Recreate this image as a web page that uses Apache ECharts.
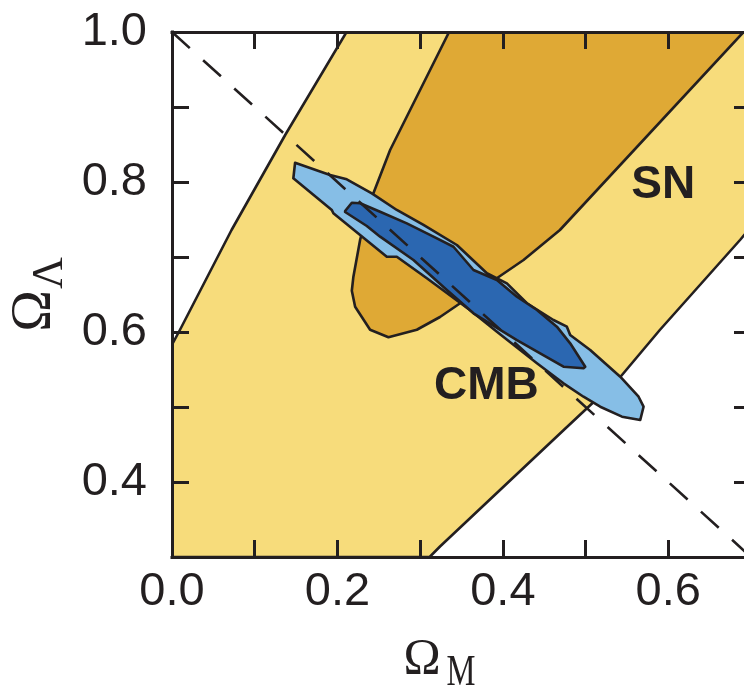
<!DOCTYPE html>
<html>
<head>
<meta charset="utf-8">
<title>Ω_M – Ω_Λ confidence regions</title>
<script src="https://cdn.jsdelivr.net/npm/echarts@6/dist/echarts.min.js"></script>
<style>
  html, body { margin: 0; padding: 0; background: #ffffff; }
  #chart { width: 744px; height: 690px; }
</style>
</head>
<body>
<div id="chart"></div>
<script>
// Confidence regions in the (Ω_M, Ω_Λ) plane, vertices as [Ω_M, Ω_Λ]

// Supernova constraint, outer (95%) band
const sn95 = [
  [0, 0.3], [0, 0.583], [0.0097, 0.603], [0.072, 0.736], [0.137, 0.863], [0.211, 1.0],
  [0.7, 1.0], [0.7, 0.740], [0.687, 0.723], [0.590, 0.603], [0.542, 0.540],
  [0.4733, 0.469], [0.324, 0.314], [0.3115, 0.3]
];

// Supernova constraint, inner (68%) region
const sn68 = [
  [0.335, 1.0], [0.2637, 0.8427], [0.2435, 0.785], [0.2274, 0.7227], [0.2193, 0.6737],
  [0.2174, 0.655], [0.2214, 0.6337], [0.2395, 0.603], [0.2617, 0.593], [0.296, 0.603],
  [0.324, 0.620], [0.425, 0.696], [0.469, 0.736], [0.691, 1.0]
];

// CMB constraint, outer (95%) contour
const cmb95 = [
  [0.1488, 0.8257], [0.1911, 0.8093], [0.2113, 0.8036], [0.2416, 0.7849], [0.2718, 0.7627],
  [0.3040, 0.7427], [0.3444, 0.716], [0.3807, 0.6783], [0.4049, 0.6649], [0.4291, 0.6383],
  [0.4612, 0.616], [0.4774, 0.6071], [0.4814, 0.596], [0.5056, 0.576], [0.5419, 0.5404],
  [0.5641, 0.5137], [0.5701, 0.5004], [0.5661, 0.4827], [0.5440, 0.4871], [0.5177, 0.5004],
  [0.4975, 0.5137], [0.4733, 0.5316], [0.4412, 0.5583], [0.3928, 0.6004], [0.3605, 0.6290],
  [0.3081, 0.6716], [0.2718, 0.7004], [0.2597, 0.7004], [0.1951, 0.7583], [0.1932, 0.7627],
  [0.1467, 0.8049]
];

// CMB constraint, inner (68%) contour
const cmb68 = [
  [0.2093, 0.7613], [0.2174, 0.7724], [0.2274, 0.7716], [0.2516, 0.7604], [0.2839, 0.7449],
  [0.3161, 0.7271], [0.3403, 0.7137], [0.3645, 0.6827], [0.3928, 0.6693], [0.4170, 0.6471],
  [0.4412, 0.6293], [0.4653, 0.6071], [0.4814, 0.5849], [0.4996, 0.5537], [0.4975, 0.5516],
  [0.4733, 0.5537], [0.4451, 0.5716], [0.4170, 0.5893], [0.3968, 0.6027], [0.3645, 0.6249],
  [0.3323, 0.656], [0.2919, 0.696], [0.2516, 0.7271], [0.2355, 0.7413], [0.2093, 0.76]
];

// Flat universe: Ω_M + Ω_Λ = 1
const flatLine = [[0, 1.0], [0.7, 0.3]];

// Region names and where they are written
const regionNames = ['SN', 'CMB'];
const regionNameAt = [[0.594, 0.796], [0.380, 0.528]];

const ink = '#231F20';
const colors = {
  sn95: '#F7DC7B',
  sn68: '#DFA935',
  cmb95: '#86BEE6',
  cmb68: '#2B67B1'
};

function regionSeries(name, pts, fill, z) {
  return {
    type: 'custom',
    name: name,
    coordinateSystem: 'cartesian2d',
    xAxisIndex: 0,
    yAxisIndex: 0,
    clip: true,
    silent: true,
    z: z,
    data: [0],
    renderItem: function (params, api) {
      return {
        type: 'polygon',
        shape: { points: pts.map(function (p) { return api.coord(p); }) },
        style: { fill: fill, stroke: ink, lineWidth: 2.6, lineJoin: 'round' }
      };
    }
  };
}

function tickLabel(v) {
  const t = Math.round(v * 10);
  return t % 2 === 0 ? (t / 10).toFixed(1) : '';
}

const tickFont = { fontFamily: 'Liberation Sans', fontSize: 47, color: ink };
const axisLineStyle = { color: ink, width: 3, cap: 'square' };
const tickStyle = { inside: true, length: 17, lineStyle: { color: ink, width: 3 } };

function makeX(position, withLabels) {
  return {
    type: 'value',
    position: position,
    min: 0, max: 0.7, interval: 0.1,
    z: 10,
    axisLine: { show: true, onZero: false, lineStyle: axisLineStyle },
    axisTick: tickStyle,
    splitLine: { show: false },
    axisLabel: withLabels
      ? Object.assign({ show: true, margin: 12, formatter: tickLabel }, tickFont)
      : { show: false }
  };
}

function makeY(position, withLabels) {
  return {
    type: 'value',
    position: position,
    min: 0.3, max: 1.0, interval: 0.1,
    z: 10,
    axisLine: { show: true, onZero: false, lineStyle: axisLineStyle },
    axisTick: tickStyle,
    splitLine: { show: false },
    axisLabel: withLabels
      ? Object.assign({ show: true, margin: 25, formatter: tickLabel }, tickFont)
      : { show: false }
  };
}

// Axis titles: Ω with a subscript, set as separate text pieces
function titleText(text, x, y, size, rotated, squeeze) {
  return {
    type: 'text',
    x: x, y: y,
    rotation: rotated ? Math.PI / 2 : 0,
    scaleX: squeeze || 1,
    silent: true,
    style: {
      text: text,
      fontFamily: 'Liberation Serif',
      fontSize: size,
      fill: ink,
      align: 'center',
      verticalAlign: 'middle'
    }
  };
}

const chart = echarts.init(document.getElementById('chart'), null, { renderer: 'canvas' });

chart.setOption({
  backgroundColor: '#ffffff',
  animation: false,
  grid: {
    left: 172, top: 32, width: 579, height: 525,
    containLabel: false,
    outerBoundsMode: 'none'
  },
  xAxis: [makeX('bottom', true), makeX('top', false)],
  yAxis: [makeY('left', true), makeY('right', false)],
  graphic: [
    titleText('Ω', 422, 660, 50, false),
    titleText('M', 461, 673, 44, false, 0.74),
    titleText('Ω', 35, 311, 56, true),
    titleText('Λ', 50, 273, 44, true)
  ],
  series: [
    regionSeries('SN 95%', sn95, colors.sn95, 2),
    regionSeries('SN 68%', sn68, colors.sn68, 3),
    regionSeries('CMB 95%', cmb95, colors.cmb95, 4),
    regionSeries('CMB 68%', cmb68, colors.cmb68, 5),
    {
      type: 'line',
      name: 'flat',
      data: flatLine,
      symbol: 'none',
      silent: true,
      z: 6,
      lineStyle: { color: ink, width: 2.6, type: [24, 18] }
    },
    {
      type: 'custom',
      name: 'region names',
      coordinateSystem: 'cartesian2d',
      silent: true,
      z: 7,
      data: regionNameAt.map(function (p, i) { return [p[0], p[1], i]; }),
      renderItem: function (params, api) {
        const pt = api.coord([api.value(0), api.value(1)]);
        return {
          type: 'text',
          style: {
            text: regionNames[api.value(2)],
            x: pt[0], y: pt[1],
            align: 'center', verticalAlign: 'middle',
            fontFamily: 'Liberation Sans', fontWeight: 'bold', fontSize: 46,
            fill: ink
          }
        };
      }
    }
  ]
});
</script>
</body>
</html>
